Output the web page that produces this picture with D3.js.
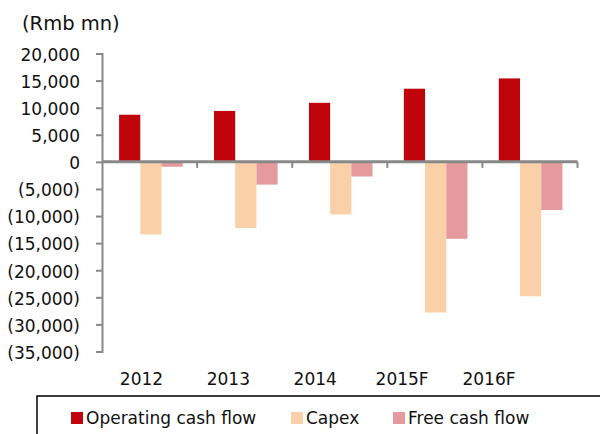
<!DOCTYPE html>
<html>
<head>
<meta charset="utf-8">
<script src="https://cdn.jsdelivr.net/npm/d3@7"></script>
<style>
  body { margin: 0; background: #fff; }
  svg { display: block; font-family: "DejaVu Sans", sans-serif; }
</style>
</head>
<body>
<svg id="chart" width="600" height="434"></svg>
<script>
var years = ["2012", "2013", "2014", "2015F", "2016F"];
var seriesNames = ["Operating cash flow", "Capex", "Free cash flow"];
var operatingCF = [8700, 9400, 10900, 13500, 15400];
var capex = [-13400, -12200, -9700, -27800, -24800];
var freeCF = [-900, -4200, -2700, -14200, -8900];
var yTicks = [20000, 15000, 10000, 5000, 0, -5000, -10000, -15000, -20000, -25000, -30000, -35000];
var colors = ["#c0040b", "#f9d0a8", "#e59a9e"];

var svg = d3.select("#chart"),
    MARGINS = { top: 53.5, left: 102, right: 20.5, bottom: 82.5 },
    WIDTH = 600,
    HEIGHT = 434,
    FONT = 17;

var table = years.map(function(y, i) {
  return { year: y, values: [operatingCF[i], capex[i], freeCF[i]] };
});

var x0 = d3.scaleBand()
  .domain(years)
  .range([MARGINS.left, WIDTH - MARGINS.right])
  .paddingInner(0.33)
  .paddingOuter(0.18);

var x1 = d3.scaleBand()
  .domain(d3.range(3))
  .range([0, x0.bandwidth()]);

var yScale = d3.scaleLinear()
  .domain([-35000, 20000])
  .range([HEIGHT - MARGINS.bottom, MARGINS.top]);

// unit label
svg.append("text")
  .attr("x", 22)
  .attr("y", 30)
  .attr("font-size", 19.5)
  .attr("fill", "#111")
  .text("(Rmb mn)");

// bars
var groups = svg.selectAll("g.grp")
  .data(table)
  .enter().append("g")
  .attr("class", "grp")
  .attr("transform", function(d) { return "translate(" + x0(d.year) + ",0)"; });

groups.selectAll("rect")
  .data(function(d) { return d.values; })
  .enter().append("rect")
  .attr("x", function(d, i) { return x1(i); })
  .attr("width", x1.bandwidth())
  .attr("y", function(d) { return yScale(Math.max(0, d)); })
  .attr("height", function(d) { return Math.abs(yScale(d) - yScale(0)); })
  .attr("fill", function(d, i) { return colors[i]; });

// y axis
var yAxis = d3.axisLeft(yScale)
  .tickValues(yTicks)
  .tickSize(6)
  .tickPadding(16)
  .tickFormat(function(d) {
    var s = d3.format(",")(Math.abs(d));
    return d < 0 ? "(" + s + ")" : s;
  });

var gy = svg.append("g")
  .attr("transform", "translate(" + MARGINS.left + ",0)")
  .call(yAxis);
gy.select(".domain").attr("stroke", "#888").attr("stroke-width", 2);
gy.selectAll(".tick line").attr("stroke", "#888").attr("stroke-width", 2);
gy.selectAll(".tick text")
  .attr("font-size", FONT)
  .attr("fill", "#111")
  .attr("dy", "0.4em")
  .attr("font-family", "\"DejaVu Sans\", sans-serif");

// zero line with category separators
var xEdge = d3.scaleLinear()
  .domain([0, years.length])
  .range([MARGINS.left, 577.5]);

svg.append("line")
  .attr("x1", xEdge(0))
  .attr("x2", xEdge(years.length))
  .attr("y1", yScale(0))
  .attr("y2", yScale(0))
  .attr("stroke", "#888")
  .attr("stroke-width", 3);

svg.selectAll("line.sep")
  .data(d3.range(1, years.length + 1))
  .enter().append("line")
  .attr("class", "sep")
  .attr("x1", function(d) { return xEdge(d); })
  .attr("x2", function(d) { return xEdge(d); })
  .attr("y1", yScale(0))
  .attr("y2", yScale(0) + 6)
  .attr("stroke", "#888")
  .attr("stroke-width", 2);

// category labels
var xLabel = d3.scalePoint()
  .domain(years)
  .range([141.5, 489]);

svg.selectAll("text.cat")
  .data(years)
  .enter().append("text")
  .attr("class", "cat")
  .attr("x", function(d) { return xLabel(d); })
  .attr("y", 385)
  .attr("text-anchor", "middle")
  .attr("font-size", FONT)
  .attr("fill", "#111")
  .text(function(d) { return d; });

// legend
svg.append("rect")
  .attr("x", 37)
  .attr("y", 396)
  .attr("width", 600)
  .attr("height", 60)
  .attr("fill", "none")
  .attr("stroke", "#000")
  .attr("stroke-width", 1.5);

var legendX = [71, 291, 393];
var leg = svg.selectAll("g.leg")
  .data(seriesNames)
  .enter().append("g")
  .attr("class", "leg")
  .attr("transform", function(d, i) { return "translate(" + legendX[i] + ",412)"; });

leg.append("rect")
  .attr("width", 12)
  .attr("height", 12)
  .attr("fill", function(d, i) { return colors[i]; });

leg.append("text")
  .attr("x", 15)
  .attr("y", 11.5)
  .attr("font-size", FONT)
  .attr("fill", "#111")
  .text(function(d) { return d; });
</script>
</body>
</html>
